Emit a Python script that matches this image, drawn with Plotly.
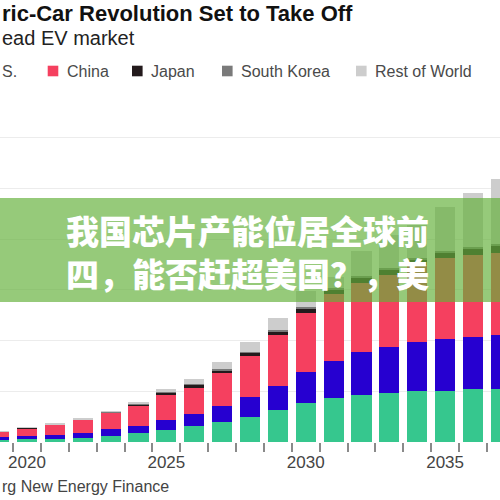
import plotly.graph_objects as go

# ---- data (millions of EVs per year) ----
years = [2019, 2020, 2021, 2022, 2023, 2024, 2025, 2026, 2027, 2028,
         2029, 2030, 2031, 2032, 2033, 2034, 2035, 2036, 2037]
europe = [0.40, 0.53, 0.65, 0.73, 1.18, 1.72, 2.30, 3.15, 3.90, 5.00,
          6.30, 7.60, 8.60, 9.30, 9.70, 10.00, 10.10, 10.40, 10.50]
us = [0.60, 0.65, 0.79, 1.00, 1.32, 1.50, 2.00, 2.35, 3.20, 3.95,
      4.80, 6.25, 7.40, 8.40, 9.10, 9.65, 10.15, 10.25, 10.60]
china = [1.00, 1.58, 2.00, 2.65, 3.22, 3.90, 4.95, 5.20, 6.45, 8.00,
         10.00, 11.50, 13.15, 13.67, 14.14, 15.25, 16.00, 16.20, 16.20]
japan = [0.04, 0.045, 0.06, 0.06, 0.15, 0.29, 0.44, 0.55, 0.59, 0.64,
         0.74, 0.89, 0.98, 1.01, 1.09, 1.09, 1.13, 1.20, 1.35]
south_korea = [0.01, 0.015, 0.02, 0.02, 0.05, 0.10, 0.15, 0.18, 0.20, 0.21,
               0.25, 0.29, 0.32, 0.34, 0.36, 0.36, 0.37, 0.40, 0.45]
rest_of_world = [0.05, 0.06, 0.08, 0.10, 0.08, 0.44, 0.61, 0.94, 1.38, 1.98,
                 2.43, 3.25, 2.00, 4.95, 6.44, 6.44, 8.56, 10.63, 12.77]

tick_years = [2020, 2025, 2030, 2035]
tick_labels = ["2020", "2025", "2030", "2035"]

series = [
    ("Europe", europe, "#36c78e"),
    ("U.S.", us, "#2600d0"),
    ("China", china, "#f5405f"),
    ("Japan", japan, "#231a1c"),
    ("South Korea", south_korea, "#7a7a7a"),
    ("Rest of World", rest_of_world, "#cdcdcd"),
]

# ---- layout helpers (pixels -> paper) ----
W, H = 500, 500
BASE = 442  # plot bottom in pixels


def px(x):
    return x / W


def py(y):
    return (BASE - y) / BASE


LATIN = "Liberation Sans, Arial, Helvetica, sans-serif"
CJK = "Noto Sans CJK SC, sans-serif"

fig = go.Figure()
for name, vals, color in series:
    fig.add_trace(go.Bar(
        x=years, y=vals, name=name, width=0.72,
        marker=dict(color=color, line=dict(width=0)),
        showlegend=False,
    ))

annotations = [
    dict(text="<b>ric-Car Revolution Set to Take Off</b>", x=px(0), y=py(13),
         xanchor="left", yanchor="middle",
         font=dict(family=LATIN, size=22, color="#111111")),
    dict(text="ead EV market", x=px(0), y=py(38), xanchor="left", yanchor="middle",
         font=dict(family=LATIN, size=20, color="#222222")),
    dict(text="rg New Energy Finance", x=px(0), y=py(486), xanchor="left",
         yanchor="middle", font=dict(family=LATIN, size=16, color="#444444")),
    dict(text="我国芯片产能位居全球前<br>四，能否赶超美国？，美",
         x=px(64), y=py(251.5), xanchor="left", yanchor="middle", align="left",
         font=dict(family=CJK, size=33, color="#ffffff", weight=900)),
]

shapes = []
# legend (visible part)
legend_items = [
    ("S.", None, 0),
    ("China", "#f5405f", 47.7),
    ("Japan", "#231a1c", 132),
    ("South Korea", "#7a7a7a", 222),
    ("Rest of World", "#cdcdcd", 356),
]
for label, color, x0 in legend_items:
    if color is None:
        annotations.append(dict(text=label, x=px(x0), y=py(71), xanchor="left",
                                yanchor="middle",
                                font=dict(family=LATIN, size=16, color="#4a4a4a")))
        continue
    shapes.append(dict(type="rect", xref="paper", yref="paper",
                       x0=px(x0), x1=px(x0 + 10.6), y0=py(76.3), y1=py(65.7),
                       fillcolor=color, line=dict(width=0), layer="above"))
    annotations.append(dict(text=label, x=px(x0 + 17.3), y=py(71), xanchor="left",
                            yanchor="middle",
                            font=dict(family=LATIN, size=16, color="#4a4a4a")))

# translucent green banner over the chart
shapes.append(dict(type="rect", xref="paper", yref="paper", x0=0, x1=1,
                   y0=py(302), y1=py(198), fillcolor="rgba(100,177,59,0.68)",
                   line=dict(width=0), layer="above"))

for a in annotations:
    a.update(xref="paper", yref="paper", showarrow=False)

fig.update_layout(
    width=W, height=H,
    margin=dict(l=0, r=0, t=0, b=H - BASE, pad=0),
    paper_bgcolor="white", plot_bgcolor="white",
    barmode="stack",
    annotations=annotations,
    shapes=shapes,
    xaxis=dict(
        range=[2019.0314, 2036.9687],
        tickvals=tick_years, ticktext=tick_labels,
        ticks="", showgrid=False, zeroline=False, showline=False,
        tickfont=dict(family=LATIN, size=17, color="#444444"),
        ticklabelstandoff=8,
        minor=dict(ticks="outside", tick0=2019.5, dtick=1, ticklen=9,
                   tickcolor="#8a8a8a", tickwidth=1.5, showgrid=False),
        fixedrange=True,
    ),
    yaxis=dict(
        range=[0, BASE / 5.07],
        tickvals=[10, 20, 30, 40, 50, 60],
        showticklabels=False, ticks="", showgrid=True,
        gridcolor="#ececec", gridwidth=1, zeroline=False, showline=False,
        fixedrange=True,
    ),
)

fig.write_html(
    "out.html",
    config={"displayModeBar": False},
    post_script="document.body.style.margin='0';document.body.style.overflow='hidden';",
)
